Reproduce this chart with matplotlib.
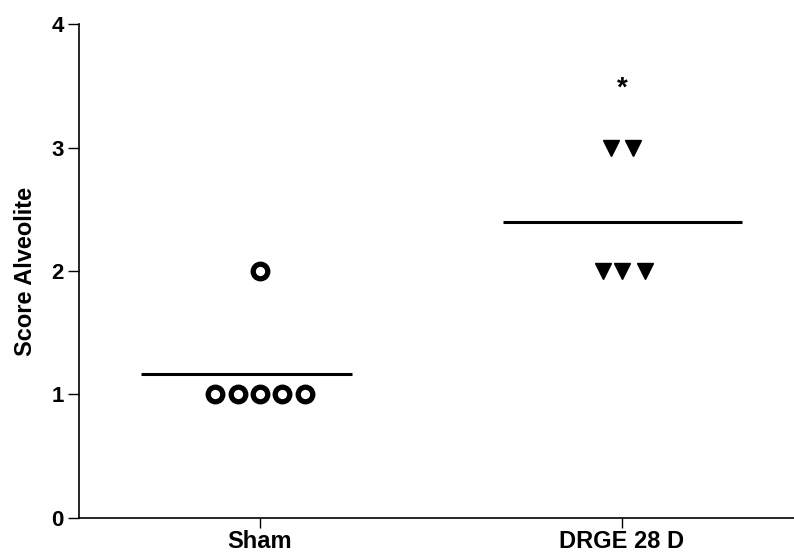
import matplotlib
matplotlib.use("Agg")
from matplotlib import pyplot as plt

plt.rcParams['font.family'] = ['Liberation Sans', 'DejaVu Sans']
plt.rcParams['font.weight'] = 'bold'

groups = ["Sham", "DRGE 28 D"]
sham_scores = [1, 1, 1, 1, 1, 2]
sham_offsets = [-0.125, -0.062, 0.0, 0.062, 0.125, 0.0]
drge_scores = [3, 3, 2, 2, 2]
drge_offsets = [-0.03, 0.03, -0.052, 0.0, 0.064]
sham_mean_span = (-0.33, 0.254)
drge_mean_span = (-0.33, 0.33)
star_y = 3.48

fig = plt.figure(figsize=(7.94, 5.55), dpi=100)
ax = fig.add_axes([0.0995, 0.0667, 0.9005, 0.89])

ax.plot([0 + o for o in sham_offsets], sham_scores, linestyle='none', marker='o',
        markersize=10.5, markerfacecolor='white', markeredgecolor='black',
        markeredgewidth=3.8, clip_on=False)
ax.plot([1 + o for o in drge_offsets], drge_scores, linestyle='none', marker='v',
        markersize=11.5, color='black', clip_on=False)

sham_mean = sum(sham_scores) / len(sham_scores)
drge_mean = sum(drge_scores) / len(drge_scores)
ax.hlines(sham_mean, 0 + sham_mean_span[0], 0 + sham_mean_span[1], color='black', lw=2.2)
ax.hlines(drge_mean, 1 + drge_mean_span[0], 1 + drge_mean_span[1], color='black', lw=2.2)

ax.text(1, star_y, "*", ha='center', va='center', fontsize=20, fontweight='bold')

ax.set_xlim(-0.5, 1.475)
ax.set_ylim(0, 4)
ax.set_xticks([0, 1])
ax.set_xticklabels(groups)
ax.set_yticks([0, 1, 2, 3, 4])
ax.tick_params(axis='y', labelsize=16, width=1, length=8, direction='out', pad=3)
ax.tick_params(axis='x', labelsize=17, width=1, length=7, direction='out', pad=2)
ax.set_ylabel("Score Alveolite", fontsize=17, fontweight='bold', labelpad=10)

for side in ['top', 'right']:
    ax.spines[side].set_visible(False)
for side in ['left', 'bottom']:
    ax.spines[side].set_linewidth(1.2)

fig.savefig("out.png", dpi=100)
